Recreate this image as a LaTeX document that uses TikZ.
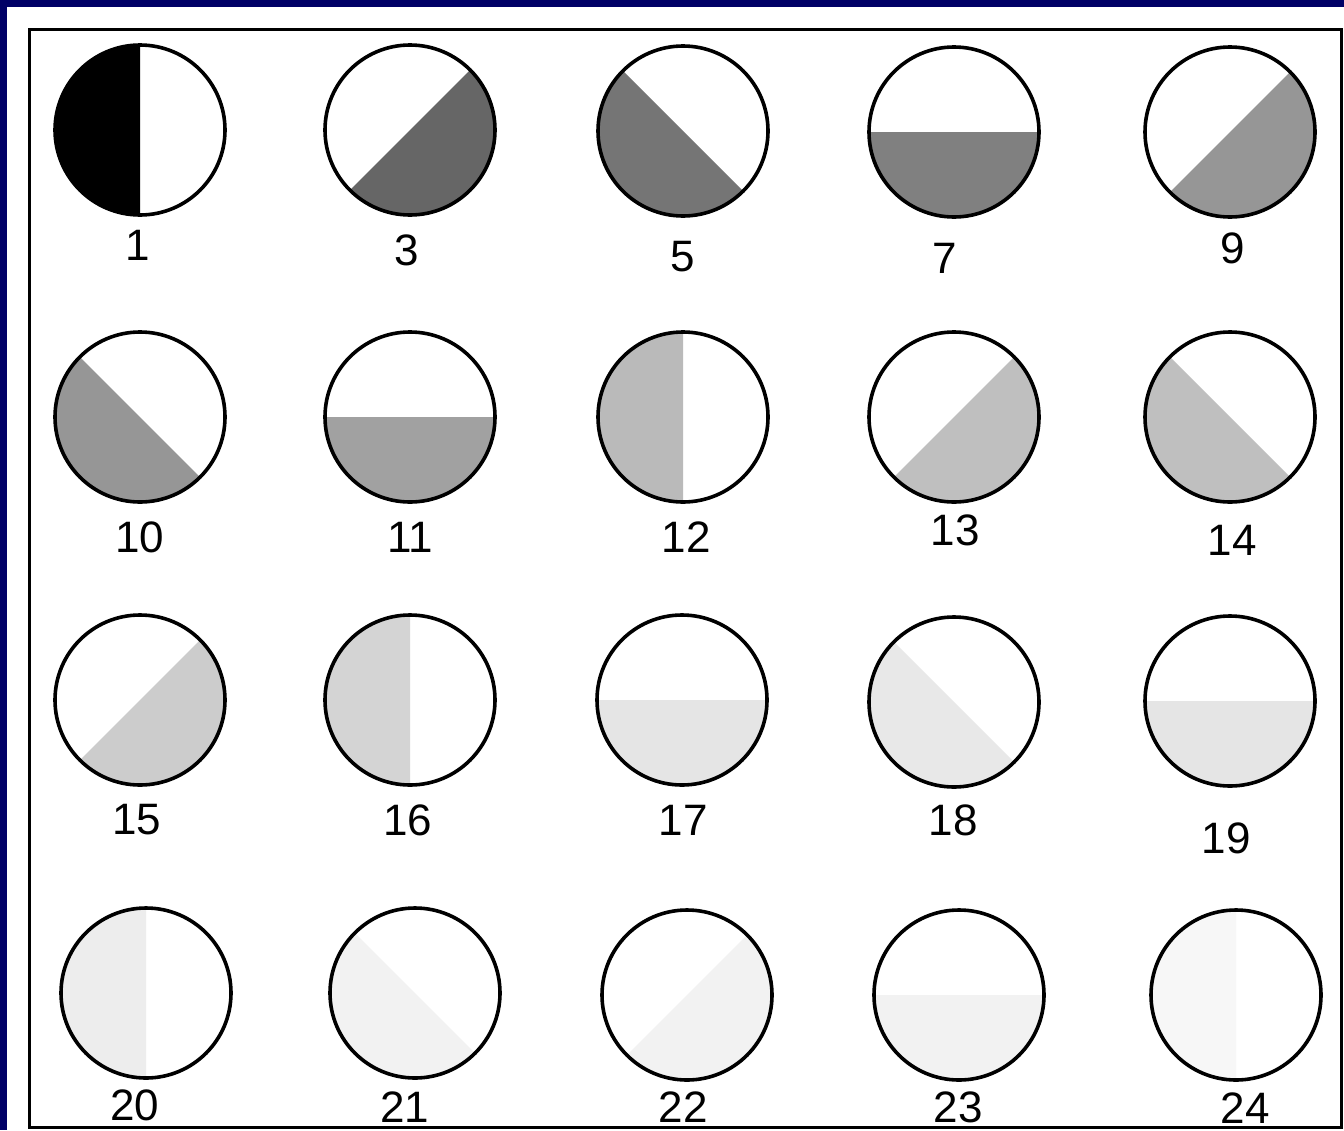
\documentclass[tikz,border=0pt]{standalone}
\usepackage{fontspec}
\setmainfont{Liberation Sans}
\definecolor{slidenavy}{HTML}{000066}
\definecolor{panelink}{HTML}{000000}

\begin{document}
\begin{tikzpicture}[
  x=0.5pt,
  y=-0.5pt,
  every node/.style={font=\fontsize{22}{26}\selectfont, panelink, inner sep=0pt},
  rim/.style={panelink, line width=1.8pt},
  frame/.style={panelink, line width=1.5pt}
]
  \useasboundingbox (0,0) rectangle (1344,1130);

  % ---- slide background and the white panel ----------------------------
  \fill[slidenavy] (0,0) rectangle (1344,1130);
  \fill[white] (7,7) rectangle (1344,1130);
  \draw[frame] (29,29) rectangle (1341,1127);

  % ---- discs: number / centre / start of shaded half / grey / label ----
  % start angle (y runs down): 90 left, 0 lower, -45 lower right, 45 lower left
  \foreach \n/\cx/\cy/\a/\g/\lx/\ly in {
      1/140/130/90/0.00/138/245,    3/410/130/-45/0.40/407/250,
      5/683/131/45/0.46/683/257,    7/954/132/0/0.50/945/258,
      9/1230/132/-45/0.59/1233/248,
      10/140/417/45/0.59/140/537,   11/410/417/0/0.63/410/537,
      12/683/417/90/0.73/686/537,   13/954/417/-45/0.75/955/530,
      14/1230/417/45/0.75/1232/540,
      15/140/700/-45/0.80/137/820,  16/410/700/90/0.83/408/820,
      17/682/700/0/0.90/683/820,    18/954/702/45/0.91/953/820,
      19/1230/701/0/0.90/1226/838,
      20/146/993/90/0.93/135/1105,  21/415/993/45/0.95/405/1107,
      22/687/995/-45/0.95/683/1107, 23/959/995/0/0.95/958/1107,
      24/1236/995/90/0.97/1245/1108}{
    \coordinate (disc\n) at (\cx,\cy);
    \definecolor{tone}{gray}{\g}
    \fill[tone] (disc\n) ++(\a:85) arc[start angle=\a, delta angle=180, radius=85] -- cycle;
    \draw[rim] (disc\n) circle[radius=85];
    \node (num\n) at (\lx,\ly) {\n};
  }
\end{tikzpicture}
\end{document}
